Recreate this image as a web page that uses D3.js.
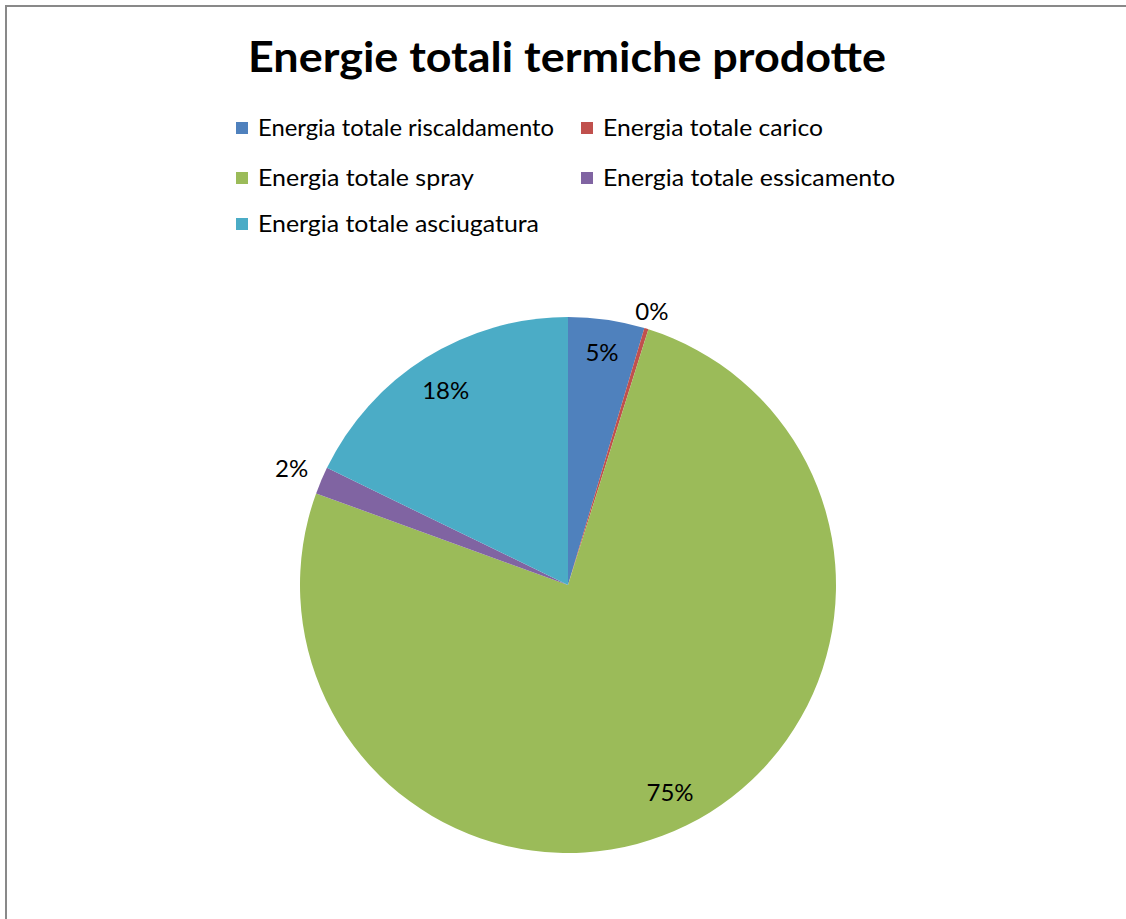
<!DOCTYPE html>
<html>
<head>
<meta charset="utf-8">
<script src="https://cdn.jsdelivr.net/npm/d3@7"></script>
<style>
  html, body { margin: 0; padding: 0; background: #fff; }
  svg { display: block; }
</style>
</head>
<body>
<svg id="chart" width="1126" height="919"></svg>
<script>
// Quote of thermal energy per phase (%)
const categories = [
  "Energia totale riscaldamento",
  "Energia totale carico",
  "Energia totale spray",
  "Energia totale essicamento",
  "Energia totale asciugatura"
];
const values = [4.6, 0.25, 75.7, 1.65, 17.8];
const colors = ["#4f81bd", "#c0504d", "#9bbb59", "#8064a2", "#4bacc6"];
const pctLabels = ["5%", "0%", "75%", "2%", "18%"];

const font = "Lato, 'Open Sans', 'Liberation Sans', sans-serif";
const svg = d3.select("#chart");

// chart frame
svg.append("path")
  .attr("d", "M6,919 V6 H1126")
  .attr("fill", "none")
  .attr("stroke", "#898989")
  .attr("stroke-width", 2);

// title
svg.append("text")
  .attr("x", 567).attr("y", 72)
  .attr("text-anchor", "middle")
  .attr("font-family", font)
  .attr("font-weight", "bold")
  .attr("font-size", 42)
  .attr("textLength", 638)
  .attr("lengthAdjust", "spacingAndGlyphs")
  .attr("fill", "#000")
  .text("Energie totali termiche prodotte");

// legend
const legendPos = [
  [236, 128], [581, 128],
  [236, 178], [581, 178],
  [236, 224]
];
const legendWidths = [296, 220, 216, 292, 281];
const lg = svg.append("g");
categories.forEach((c, i) => {
  const [x, y] = legendPos[i];
  lg.append("rect")
    .attr("x", x).attr("y", y - 6)
    .attr("width", 12).attr("height", 12)
    .attr("fill", colors[i]);
  lg.append("text")
    .attr("x", x + 22).attr("y", y + 8)
    .attr("font-family", font)
    .attr("font-size", 23)
    .attr("textLength", legendWidths[i])
    .attr("lengthAdjust", "spacingAndGlyphs")
    .attr("fill", "#000")
    .text(c);
});

// pie
const cx = 568, cy = 585, r = 268;
const pie = d3.pie().sort(null).value(d => d);
const arcs = pie(values);
const arc = d3.arc().innerRadius(0).outerRadius(r);

const g = svg.append("g").attr("transform", `translate(${cx},${cy})`);
g.selectAll("path")
  .data(arcs)
  .join("path")
  .attr("d", arc)
  .attr("fill", (d, i) => colors[i]);

// percentage labels: inside for big slices, outside for thin ones
const labelRadius = [0.88, 1.07, 0.86, 1.12, 0.86];
arcs.forEach((d, i) => {
  const rr = r * labelRadius[i];
  const a = (d.startAngle + d.endAngle) / 2;
  const x = Math.sin(a) * rr, y = -Math.cos(a) * rr;
  g.append("text")
    .attr("x", x).attr("y", y)
    .attr("text-anchor", "middle")
    .attr("dominant-baseline", "central")
    .attr("font-family", font)
    .attr("font-size", 24)
    .attr("fill", "#000")
    .text(pctLabels[i]);
});
</script>
</body>
</html>
